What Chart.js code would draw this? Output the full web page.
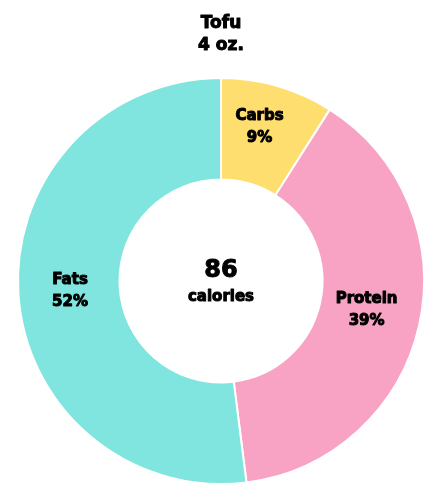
<!DOCTYPE html>
<html><head><meta charset="utf-8">
<script src="https://cdn.jsdelivr.net/npm/chart.js@4"></script>
<style>html,body{margin:0;padding:0;background:#fff}#wrap{width:443px;height:502px}</style>
</head><body><div id="wrap"><canvas id="c" width="443" height="502"></canvas></div>
<script>
const categories = ["Carbs", "Protein", "Fats"];
const percents = [9, 39, 52];
const colors = ["#FFDE70", "#F9A3C4", "#80E5DF"];
const titleLines = ["Tofu", "4 oz."];
const centerLines = ["86", "calories"];
const FONT = "'DejaVu Sans', sans-serif";
const labelNudge = [[-4, -8], [-3, -4], [1, 1]];

function heavyText(ctx, t, x, y) {
  ctx.strokeText(t, x, y);
  ctx.fillText(t, x, y);
}

const textPlugin = {
  id: 'texts',
  afterDraw(chart) {
    const ctx = chart.ctx;
    const meta = chart.getDatasetMeta(0);
    ctx.save();
    ctx.fillStyle = '#000';
    ctx.strokeStyle = '#000';
    ctx.lineWidth = 1;
    ctx.lineJoin = 'round';
    ctx.textAlign = 'center';
    ctx.textBaseline = 'middle';
    ctx.font = "bold 17px " + FONT;
    heavyText(ctx, titleLines[0], 221, 24);
    heavyText(ctx, titleLines[1], 221, 46);
    const arc0 = meta.data[0];
    const cx = arc0.x, cy = arc0.y;
    ctx.font = "bold 24px " + FONT;
    heavyText(ctx, centerLines[0], cx, cy - 10);
    ctx.font = "bold 15px " + FONT;
    heavyText(ctx, centerLines[1], cx, cy + 16);
    meta.data.forEach((arc, i) => {
      const mid = (arc.startAngle + arc.endAngle) / 2;
      const r = (arc.innerRadius + arc.outerRadius) / 2;
      const x = cx + Math.cos(mid) * r + labelNudge[i][0];
      const y = cy + Math.sin(mid) * r + labelNudge[i][1];
      ctx.font = "bold 15px " + FONT;
      heavyText(ctx, categories[i], x, y - 11);
      heavyText(ctx, percents[i] + "%", x, y + 11);
    });
    ctx.restore();
  }
};

new Chart(document.getElementById('c'), {
  type: 'doughnut',
  data: {
    labels: categories,
    datasets: [{
      data: percents,
      backgroundColor: colors,
      borderColor: '#ffffff',
      borderWidth: 2,
      hoverOffset: 0
    }]
  },
  options: {
    responsive: false,
    animation: false,
    cutout: '50%',
    layout: { padding: { top: 77, bottom: 17, left: 17, right: 18 } },
    plugins: { legend: { display: false }, tooltip: { enabled: false }, title: { display: false } }
  },
  plugins: [textPlugin]
});
</script></body></html>
